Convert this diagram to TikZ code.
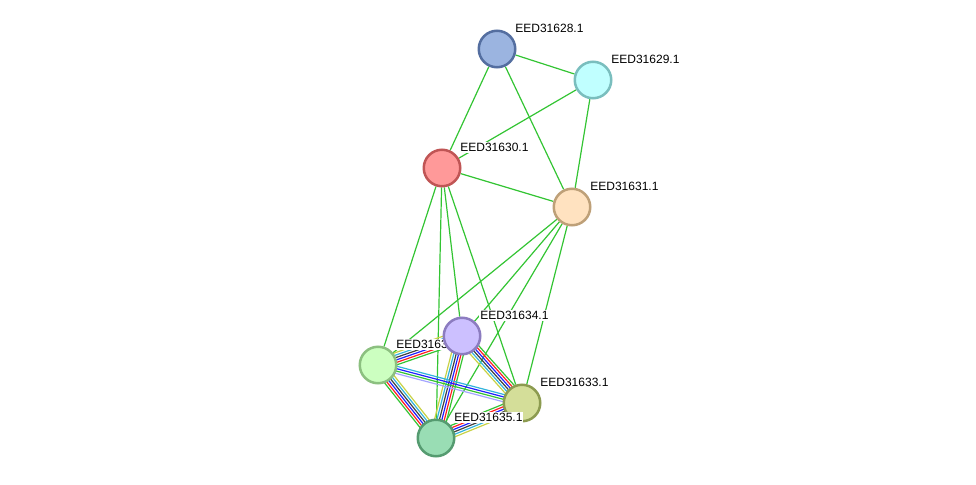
\documentclass[tikz,border=0pt]{standalone}
\usepackage{fontspec}
\setmainfont{Liberation Sans}
\usetikzlibrary{calc}
\pgfdeclarelayer{edges}
\pgfsetlayers{edges,main}

% evidence colours
\definecolor{lkgreen}{RGB}{51,196,51}
\definecolor{lkred}{RGB}{255,32,32}
\definecolor{lkblue}{RGB}{32,32,255}
\definecolor{lkblack}{RGB}{64,64,64}
\definecolor{lkcyan}{RGB}{50,180,220}
\definecolor{lkyellow}{RGB}{200,210,70}
\definecolor{lklav}{RGB}{165,165,255}

% protein colours (fill, border)
\definecolor{f28}{RGB}{155,180,224}\definecolor{d28}{RGB}{84,110,160}
\definecolor{f29}{RGB}{192,255,255}\definecolor{d29}{RGB}{122,190,190}
\definecolor{f30}{RGB}{255,153,153}\definecolor{d30}{RGB}{192,85,85}
\definecolor{f31}{RGB}{255,226,192}\definecolor{d31}{RGB}{190,160,120}
\definecolor{f32}{RGB}{204,255,192}\definecolor{d32}{RGB}{140,192,128}
\definecolor{f33}{RGB}{212,222,153}\definecolor{d33}{RGB}{140,155,80}
\definecolor{f34}{RGB}{204,192,255}\definecolor{d34}{RGB}{140,124,192}
\definecolor{f35}{RGB}{153,221,180}\definecolor{d35}{RGB}{85,155,112}

% parallel lines between two nodes, colours listed from left to right
\newcommand\bundle[4]{%
  \foreach \col [count=\i] in {#4} {
    \pgfmathsetmacro\off{((#3+1)/2-\i)*2.4}
    \draw[link, \col] ($(#1)!\off pt!90:(#2)$) -- ($(#2)!\off pt!-90:(#1)$);
  }}

\begin{document}
\begin{tikzpicture}[x=1pt, y=-1pt,
  prot/.style 2 args={circle, minimum size=36.5pt, inner sep=0pt, line width=2.5pt, fill=#1, draw=#2},
  lbl/.style={font=\fontsize{12}{14}\selectfont, fill=white, inner sep=1pt, xshift=3.4pt, yshift=1.4pt},
  link/.style={line width=1.2pt}]
  \useasboundingbox (0,0) rectangle (976,484);

  % Proteins
  \node[prot={f28}{d28}, label={[lbl]above right:EED31628.1}] (e28) at (497,49) {};
  \node[prot={f29}{d29}, label={[lbl]above right:EED31629.1}] (e29) at (593,80) {};
  \node[prot={f30}{d30}, label={[lbl]above right:EED31630.1}] (e30) at (442,168) {};
  \node[prot={f31}{d31}, label={[lbl]above right:EED31631.1}] (e31) at (572,207) {};
  \node[prot={f32}{d32}, label={[lbl]above right:EED31632.1}] (e32) at (378,365) {};
  \node[prot={f34}{d34}, label={[lbl]above right:EED31634.1}] (e34) at (462,336) {};
  \node[prot={f33}{d33}, label={[lbl]above right:EED31633.1}] (e33) at (522,403) {};
  \node[prot={f35}{d35}, label={[lbl]above right:EED31635.1}] (e35) at (436,438) {};

  % Links
  \begin{pgfonlayer}{edges}
    \foreach \a/\b in {e28/e29, e28/e30, e28/e31, e29/e30, e29/e31, e30/e31,
                       e30/e32, e30/e34, e30/e35, e30/e33,
                       e31/e32, e31/e34, e31/e35, e31/e33}
      \draw[link, lkgreen] (\a) -- (\b);
    \bundle{e32}{e34}{6}{lkyellow,lkcyan,lkblack,lkblue,lkred,lkgreen}
    \bundle{e32}{e35}{6}{lkyellow,lkcyan,lkblack,lkblue,lkred,lkgreen}
    \bundle{e35}{e34}{6}{lkyellow,lkcyan,lkblack,lkblue,lkred,lkgreen}
    \bundle{e33}{e34}{6}{lkyellow,lkcyan,lkblack,lkblue,lkred,lkgreen}
    \bundle{e33}{e35}{6}{lkyellow,lkcyan,lkblack,lkblue,lkred,lkgreen}
    \bundle{e32}{e33}{4}{lkcyan,lkblue,lkgreen,lklav}
  \end{pgfonlayer}
\end{tikzpicture}
\end{document}
